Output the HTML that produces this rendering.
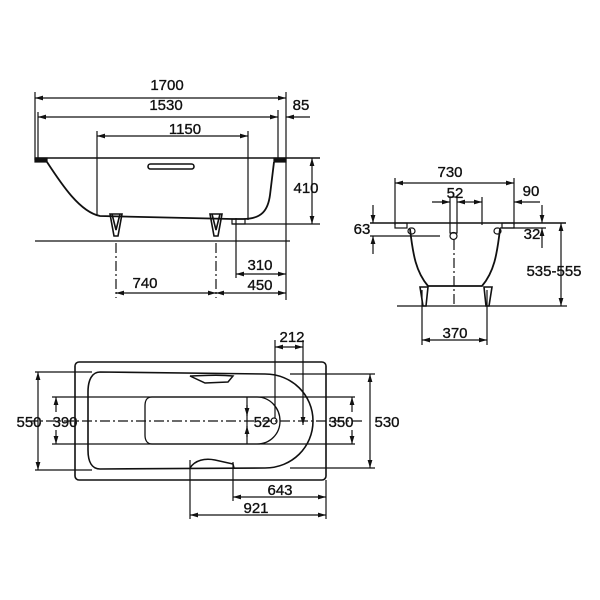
<!DOCTYPE html>
<html><head><style>
html,body{margin:0;padding:0;background:#fff;}
svg{display:block;}
text{font-family:"Liberation Sans",Arial,sans-serif;font-size:15px;fill:#111;stroke:#111;stroke-width:0.35;text-anchor:middle;}
</style></head><body>
<svg width="600" height="600" viewBox="0 0 600 600" xmlns="http://www.w3.org/2000/svg">
<defs>
<marker id="a" viewBox="0 0 10 6" refX="10" refY="3" markerWidth="8" markerHeight="5" orient="auto-start-reverse" markerUnits="userSpaceOnUse"><path d="M0,0 L10,3 L0,6 z" fill="#111"/></marker>
</defs>
<g stroke="#111" stroke-width="1.2" fill="none">
<!-- SIDE VIEW -->
<line x1="35" y1="92" x2="35" y2="160"/>
<line x1="38" y1="112" x2="38" y2="158"/>
<line x1="286" y1="92" x2="286" y2="300"/>
<line x1="278" y1="110" x2="278" y2="158"/>
<line x1="35" y1="98" x2="286" y2="98" marker-start="url(#a)" marker-end="url(#a)"/>
<line x1="38" y1="117" x2="278" y2="117" marker-start="url(#a)" marker-end="url(#a)"/>
<line x1="286" y1="117" x2="310" y2="117" marker-start="url(#a)"/>
<line x1="97" y1="131" x2="97" y2="215"/>
<line x1="248" y1="131" x2="248" y2="220"/>
<line x1="97" y1="136" x2="248" y2="136" marker-start="url(#a)" marker-end="url(#a)"/>
<line x1="35" y1="158" x2="320" y2="158" stroke-width="1.4"/>
<rect x="35" y="158" width="12" height="4" fill="#111"/>
<rect x="274" y="158" width="12" height="4" fill="#111"/>
<rect x="148" y="164" width="46" height="5" rx="2.5" stroke-width="1.6"/>
<path d="M47,162 C62,185 80,212 100,216 L232,219 L243,219 C262,219 268,210 270,195 L274,162" stroke-width="1.8"/>
<line x1="232" y1="224" x2="320" y2="224"/>
<rect x="232" y="219" width="13" height="5"/>
<line x1="312" y1="158" x2="312" y2="224" marker-start="url(#a)" marker-end="url(#a)"/>
<line x1="35" y1="241" x2="290" y2="241"/>
<!-- feet -->
<path d="M110,214 L122,214 L118,236 L114,236 Z M112,214 L116,230 L120,214" stroke-width="1.6"/>
<path d="M210,214 L222,214 L218,236 L214,236 Z M212,214 L216,230 L220,214" stroke-width="1.6"/>
<line x1="116" y1="243" x2="116" y2="298" stroke-dasharray="10,3,2,3"/>
<line x1="216" y1="243" x2="216" y2="298" stroke-dasharray="10,3,2,3"/>
<line x1="236" y1="218" x2="236" y2="278"/>
<line x1="116" y1="293" x2="216" y2="293" marker-start="url(#a)" marker-end="url(#a)"/>
<line x1="216" y1="293" x2="286" y2="293" marker-start="url(#a)" marker-end="url(#a)"/>
<line x1="236" y1="274" x2="286" y2="274" marker-start="url(#a)" marker-end="url(#a)"/>

<!-- END VIEW -->
<line x1="395" y1="178" x2="395" y2="225"/>
<line x1="514" y1="178" x2="514" y2="225"/>
<line x1="395" y1="183" x2="514" y2="183" marker-start="url(#a)" marker-end="url(#a)"/>
<line x1="432" y1="202" x2="450" y2="202" marker-end="url(#a)"/>
<line x1="457" y1="202" x2="470" y2="202" marker-start="url(#a)"/>
<line x1="482" y1="202" x2="470" y2="202" marker-start="url(#a)"/>
<line x1="482" y1="197" x2="482" y2="225"/>
<line x1="514" y1="202" x2="540" y2="202" marker-start="url(#a)"/>
<line x1="370" y1="223" x2="566" y2="223" stroke-width="1.4"/>
<rect x="395" y="223" width="12" height="5"/>
<rect x="502" y="223" width="12" height="5"/>
<rect x="450" y="197" width="7" height="36"/>
<circle cx="453.5" cy="236" r="3.5"/>
<rect x="408" y="228" width="7" height="6" rx="3"/>
<rect x="494" y="228" width="7" height="6" rx="3"/>
<path d="M410,229 C413,255 416,272 428,286 L482,286 C494,272 497,255 500,229" stroke-width="1.8"/>
<line x1="373" y1="205" x2="373" y2="223" marker-end="url(#a)"/>
<line x1="373" y1="254" x2="373" y2="236" marker-end="url(#a)"/>
<line x1="370" y1="236" x2="440" y2="236"/>
<line x1="542" y1="205" x2="542" y2="223" marker-end="url(#a)"/>
<line x1="542" y1="248" x2="542" y2="228" marker-end="url(#a)"/>
<line x1="500" y1="228" x2="546" y2="228"/>
<line x1="561" y1="223" x2="561" y2="306" marker-start="url(#a)" marker-end="url(#a)"/>
<line x1="397" y1="306" x2="567" y2="306"/>
<path d="M420,287 L428,287 L426,306 L423,306 Z M484,287 L492,287 L489,306 L486,306 Z" stroke-width="1.6"/>
<line x1="454" y1="240" x2="454" y2="306" stroke-dasharray="10,3,2,3"/>
<line x1="422" y1="290" x2="422" y2="345"/>
<line x1="487" y1="290" x2="487" y2="345"/>
<line x1="422" y1="340" x2="487" y2="340" marker-start="url(#a)" marker-end="url(#a)"/>

<!-- PLAN VIEW -->
<rect x="75" y="362" width="251" height="118" rx="4" stroke-width="1.6"/>
<path d="M100,372 L265,374 C292,374 313,395 313,421 C313,447 292,468 265,468 L100,469 C92,469 88,462 88,450 L88,392 C88,380 92,372 100,372 Z" stroke-width="1.6"/>
<path d="M152,397 L257,397 C270,397 280,408 280,421 C280,434 270,444 257,444 L152,444 C147,444 145,440 145,435 L145,406 C145,400 147,397 152,397 Z" stroke-width="1.3"/>
<line x1="247" y1="397" x2="247" y2="444"/>
<circle cx="274" cy="421" r="3"/>
<path d="M190,376 C200,376 215,374 233,376 L228,382 L205,383 Z" stroke-width="1.5"/>
<path d="M190,468 C195,460 205,458 215,460 L233,464 L234,468" stroke-width="1.5"/>
<line x1="28" y1="421" x2="362" y2="421" stroke-dasharray="10,3,2,3"/>
<line x1="35" y1="372" x2="92" y2="372"/>
<line x1="35" y1="470" x2="92" y2="470"/>
<line x1="38" y1="372" x2="38" y2="470" marker-start="url(#a)" marker-end="url(#a)"/>
<line x1="52" y1="397" x2="355" y2="397"/>
<line x1="52" y1="444" x2="355" y2="444"/>
<line x1="56" y1="397" x2="56" y2="412" marker-start="url(#a)"/>
<line x1="56" y1="430" x2="56" y2="444" marker-end="url(#a)"/>
<line x1="352" y1="397" x2="352" y2="412" marker-start="url(#a)"/>
<line x1="352" y1="430" x2="352" y2="444" marker-end="url(#a)"/>
<line x1="290" y1="374" x2="375" y2="374"/>
<line x1="290" y1="468" x2="375" y2="468"/>
<line x1="370" y1="374" x2="370" y2="468" marker-start="url(#a)" marker-end="url(#a)"/>
<line x1="247" y1="405" x2="247" y2="416" marker-end="url(#a)"/>
<line x1="247" y1="437" x2="247" y2="426" marker-end="url(#a)"/>
<line x1="275" y1="340" x2="275" y2="418"/>
<line x1="303" y1="340" x2="303" y2="425" marker-end="url(#a)"/>
<line x1="275" y1="347" x2="303" y2="347" marker-start="url(#a)" marker-end="url(#a)"/>
<line x1="190" y1="460" x2="190" y2="519"/>
<line x1="233" y1="462" x2="233" y2="501"/>
<line x1="326" y1="480" x2="326" y2="519"/>
<line x1="233" y1="497" x2="326" y2="497" marker-start="url(#a)" marker-end="url(#a)"/>
<line x1="190" y1="515" x2="326" y2="515" marker-start="url(#a)" marker-end="url(#a)"/>
</g>
<g>
<text x="167" y="90">1700</text>
<text x="166" y="110">1530</text>
<text x="301" y="110">85</text>
<text x="185" y="134">1150</text>
<text x="306" y="193">410</text>
<text x="145" y="288">740</text>
<text x="260" y="270">310</text>
<text x="260" y="290">450</text>
<text x="450" y="177">730</text>
<text x="455" y="198">52</text>
<text x="531" y="196">90</text>
<text x="362" y="234">63</text>
<text x="532" y="239">32</text>
<text x="554" y="276">535-555</text>
<text x="455" y="338">370</text>
<text x="292" y="342">212</text>
<text x="29" y="427">550</text>
<text x="65" y="427">390</text>
<text x="262" y="427">52</text>
<text x="341" y="427">350</text>
<text x="387" y="427">530</text>
<text x="280" y="495">643</text>
<text x="256" y="513">921</text>
</g>
</svg>
</body></html>
